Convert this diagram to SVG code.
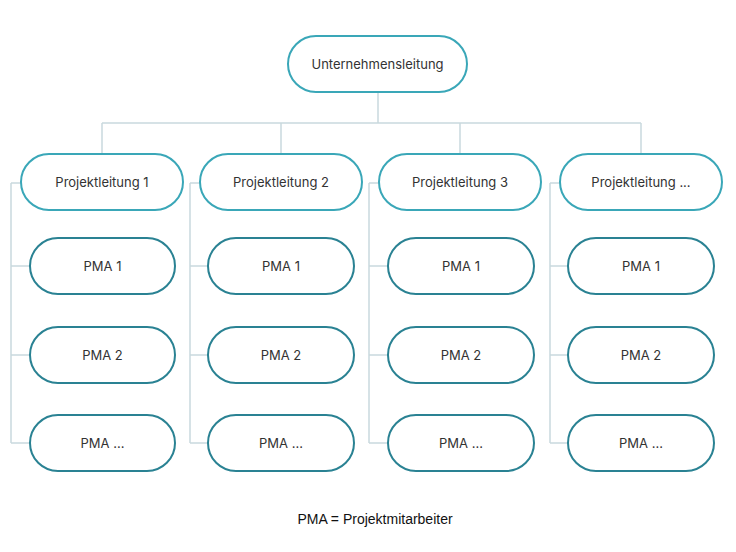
<svg xmlns="http://www.w3.org/2000/svg" width="736" height="552" viewBox="0 0 736 552">
<style>
.n{fill:#fff;stroke-width:2}
.t{stroke:#3aa7b8}.p{stroke:#2a8293}
text{font-family:Inter,"Noto Sans",sans-serif;font-size:13px;fill:#333;text-anchor:middle;dominant-baseline:central}
.c{stroke:#c9d9de;stroke-width:1.5;fill:none}
</style>
<rect width="736" height="552" fill="#fff"/>
<g id="connectors" class="c">
<path d="M378 92V123M102 123H641M102 123V154M281 123V154M460 123V154M641 123V154"/>
<path d="M11 183V443M11 183H21M11 266H30M11 355H30M11 443H30"/>
<path d="M190 183V443M190 183H200M190 266H208M190 355H208M190 443H208"/>
<path d="M369 183V443M369 183H379M369 266H388M369 355H388M369 443H388"/>
<path d="M550 183V443M550 183H560M550 266H568M550 355H568M550 443H568"/>
</g>
<g id="top"><rect class="n t" x="288" y="36" width="179" height="56" rx="28"/><text x="377.5" y="64">Unternehmensleitung</text></g>
<g id="pl1"><rect class="n t" x="21" y="154" width="162" height="56" rx="28"/><text x="102" y="182">Projektleitung 1</text></g>
<g id="pl2"><rect class="n t" x="200" y="154" width="162" height="56" rx="28"/><text x="281" y="182">Projektleitung 2</text></g>
<g id="pl3"><rect class="n t" x="379" y="154" width="162" height="56" rx="28"/><text x="460" y="182">Projektleitung 3</text></g>
<g id="pl4"><rect class="n t" x="560" y="154" width="162" height="56" rx="28"/><text x="641" y="182">Projektleitung ...</text></g>
<g id="c1a"><rect class="n p" x="30" y="238" width="145" height="56" rx="28"/><text x="102.5" y="266">PMA 1</text></g>
<g id="c1b"><rect class="n p" x="30" y="327" width="145" height="56" rx="28"/><text x="102.5" y="355">PMA 2</text></g>
<g id="c1c"><rect class="n p" x="30" y="415" width="145" height="56" rx="28"/><text x="102.5" y="443">PMA ...</text></g>
<g id="c2a"><rect class="n p" x="208" y="238" width="146" height="56" rx="28"/><text x="281" y="266">PMA 1</text></g>
<g id="c2b"><rect class="n p" x="208" y="327" width="146" height="56" rx="28"/><text x="281" y="355">PMA 2</text></g>
<g id="c2c"><rect class="n p" x="208" y="415" width="146" height="56" rx="28"/><text x="281" y="443">PMA ...</text></g>
<g id="c3a"><rect class="n p" x="388" y="238" width="146" height="56" rx="28"/><text x="461" y="266">PMA 1</text></g>
<g id="c3b"><rect class="n p" x="388" y="327" width="146" height="56" rx="28"/><text x="461" y="355">PMA 2</text></g>
<g id="c3c"><rect class="n p" x="388" y="415" width="146" height="56" rx="28"/><text x="461" y="443">PMA ...</text></g>
<g id="c4a"><rect class="n p" x="568" y="238" width="146" height="56" rx="28"/><text x="641" y="266">PMA 1</text></g>
<g id="c4b"><rect class="n p" x="568" y="327" width="146" height="56" rx="28"/><text x="641" y="355">PMA 2</text></g>
<g id="c4c"><rect class="n p" x="568" y="415" width="146" height="56" rx="28"/><text x="641" y="443">PMA ...</text></g>
<text x="375" y="519" style="font-family:'Liberation Sans',Arial,sans-serif;font-size:14px;fill:#111">PMA = Projektmitarbeiter</text>
</svg>
